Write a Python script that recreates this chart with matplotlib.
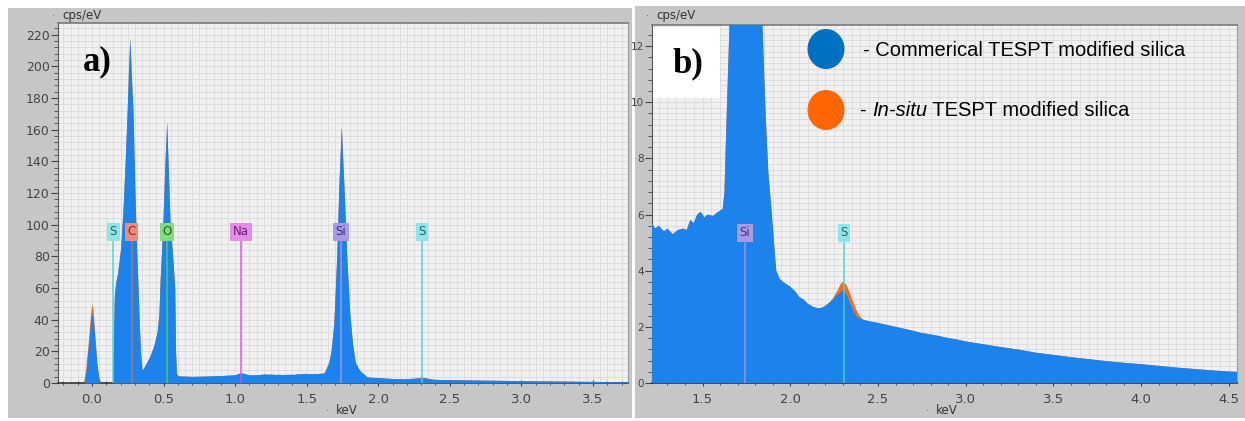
import matplotlib
matplotlib.use("Agg")
import matplotlib.pyplot as plt
from matplotlib.patches import Rectangle, Ellipse
from matplotlib.ticker import MultipleLocator, FormatStrFormatter

# ---- spectrum data (energy in keV, intensity in cps/eV) ----
commercial_kev = [
    -0.25, -0.055, -0.04, -0.02, -0.006, 0.0, 0.008, 0.02, 0.035, 0.05, 0.06,
    0.146, 0.150, 0.156, 0.165, 0.18, 0.20, 0.217, 0.232, 0.245, 0.256, 0.265,
    0.274, 0.287, 0.30, 0.31, 0.32, 0.33, 0.34, 0.35, 0.37, 0.40, 0.43, 0.455,
    0.468, 0.476, 0.487, 0.496, 0.51, 0.522, 0.533, 0.545, 0.565, 0.578, 0.584,
    0.59, 0.60, 0.70, 0.80, 0.90, 1.00, 1.03, 1.06, 1.10, 1.16, 1.21, 1.23,
    1.25, 1.28, 1.30, 1.33, 1.36, 1.39, 1.41, 1.43, 1.45, 1.47, 1.49, 1.51,
    1.53, 1.56, 1.59, 1.615, 1.625, 1.635, 1.645, 1.655, 1.67, 1.69, 1.71,
    1.725, 1.742, 1.76, 1.78, 1.80, 1.82, 1.84, 1.86, 1.875, 1.89, 1.905, 1.92,
    1.94, 1.97, 2.00, 2.03, 2.05, 2.08, 2.10, 2.13, 2.16, 2.18, 2.20, 2.22,
    2.24, 2.27, 2.30, 2.32, 2.34, 2.36, 2.38, 2.40, 2.45, 2.50, 2.55, 2.60,
    2.65, 2.70, 2.75, 2.80, 2.85, 2.90, 2.95, 3.00, 3.10, 3.20, 3.30, 3.40,
    3.50, 3.60, 3.70, 3.80, 3.90, 4.00, 4.10, 4.20, 4.30, 4.40, 4.50, 4.60]
commercial_cps = [
    0, 0, 9, 28, 42, 44, 41, 28, 11, 2, 0,
    0, 30, 55, 63, 70, 85, 110, 140, 170, 200, 218,
    196, 170, 120, 90, 65, 38, 18, 8, 11, 16, 23, 32,
    44, 65, 85, 103, 140, 165, 135, 103, 78, 60, 20,
    6, 4.5, 4.2, 4.4, 4.7, 5.2, 6.3, 6.1, 5.1, 5.3, 5.7, 5.5,
    5.6, 5.4, 5.5, 5.3, 5.45, 5.5, 5.45, 5.8, 5.7, 6.0, 6.1, 5.9,
    6.0, 5.95, 6.1, 6.2, 6.8, 9, 11, 13, 20, 38, 80,
    125, 162, 125, 80, 45, 25, 13, 9.5, 7.5, 6.4, 5.2, 4.0,
    3.7, 3.55, 3.43, 3.25, 3.07, 2.95, 2.82, 2.71, 2.66, 2.68, 2.75, 2.85,
    2.96, 3.15, 3.3, 3.15, 2.85, 2.55, 2.35, 2.28, 2.2, 2.14, 2.07, 2.0,
    1.93, 1.86, 1.78, 1.73, 1.67, 1.6, 1.55, 1.48, 1.38, 1.28, 1.19, 1.08,
    1.0, 0.92, 0.85, 0.78, 0.72, 0.67, 0.61, 0.55, 0.5, 0.45, 0.41, 0.38]

insitu_kev = [
    -0.25, -0.06, -0.045, -0.025, -0.008, 0.0, 0.008, 0.02, 0.035, 0.05, 0.065,
    0.146, 0.150, 0.156, 0.165, 0.18, 0.20, 0.217, 0.232, 0.245, 0.256, 0.265,
    0.274, 0.287, 0.30, 0.31, 0.32, 0.33, 0.34, 0.35, 0.37, 0.40, 0.43, 0.455,
    0.468, 0.476, 0.487, 0.496, 0.51, 0.522, 0.533, 0.545, 0.565, 0.578, 0.584,
    0.59, 0.60, 0.70, 0.80, 0.90, 1.00, 1.03, 1.06, 1.10, 1.16, 1.21, 1.23,
    1.25, 1.28, 1.30, 1.33, 1.36, 1.39, 1.41, 1.43, 1.45, 1.47, 1.49, 1.51,
    1.53, 1.56, 1.59, 1.615, 1.625, 1.635, 1.645, 1.655, 1.67, 1.69, 1.71,
    1.725, 1.742, 1.76, 1.78, 1.80, 1.82, 1.84, 1.86, 1.875, 1.89, 1.905, 1.92,
    1.94, 1.97, 2.00, 2.03, 2.05, 2.08, 2.10, 2.13, 2.16, 2.18, 2.20, 2.22,
    2.24, 2.27, 2.29, 2.30, 2.32, 2.34, 2.36, 2.38, 2.40, 2.42, 2.45, 2.50,
    2.55, 2.60, 2.65, 2.70, 2.75, 2.80, 2.85, 2.90, 2.95, 3.00, 3.10, 3.20,
    3.30, 3.40, 3.50, 3.60, 3.70, 3.80, 3.90, 4.00, 4.10, 4.20, 4.30, 4.40,
    4.50, 4.60]
insitu_cps = [
    0, 0, 8, 27, 46, 50, 46, 30, 12, 3, 0,
    0, 30, 55, 63, 70, 85, 110, 140, 170, 200, 218,
    196, 170, 120, 90, 65, 38, 18, 8, 11, 16, 23, 32,
    44, 65, 85, 103, 140, 165, 135, 103, 78, 60, 20,
    6, 4.5, 4.2, 4.4, 4.7, 5.2, 6.3, 6.1, 5.1, 5.3, 5.7, 5.5,
    5.6, 5.4, 5.5, 5.3, 5.45, 5.5, 5.45, 5.8, 5.7, 6.0, 6.1, 5.9,
    6.0, 5.95, 6.1, 6.2, 6.8, 9, 11, 13, 20, 38, 80,
    125, 162, 125, 80, 45, 25, 13, 9.5, 7.5, 6.4, 5.2, 4.0,
    3.7, 3.55, 3.43, 3.25, 3.07, 2.95, 2.82, 2.71, 2.66, 2.68, 2.75, 2.85,
    2.98, 3.3, 3.55, 3.6, 3.5, 3.2, 2.85, 2.55, 2.35, 2.24, 2.2, 2.14,
    2.07, 2.0, 1.93, 1.86, 1.78, 1.73, 1.67, 1.6, 1.55, 1.48, 1.38, 1.28,
    1.19, 1.08, 1.0, 0.92, 0.85, 0.78, 0.72, 0.67, 0.61, 0.55, 0.5, 0.45,
    0.41, 0.38]

# Element line markers
element_names = ["S", "C", "O", "Na", "Si", "S"]
element_kev = [0.149, 0.277, 0.525, 1.041, 1.740, 2.307]

legend_labels = ["Commerical", "In-situ"]
legend_suffix = " TESPT modified silica"

# ---- styling ----
W, H = 1245, 421
BLUE = "#1c82ec"
ORANGE = "#f26d1d"
FRAME = "#c6c6c6"
PLOT_BG = "#f1f1f1"
GRID = "#dddddd"
marker_style = {
    "S":  dict(box="#8fe6ea", text="#1d6b72", line="#45d6de"),
    "C":  dict(box="#ef8a78", text="#7a2a20", line="#c8705f"),
    "O":  dict(box="#82de7c", text="#205e20", line="#56d050"),
    "Na": dict(box="#e78ae8", text="#6d1f70", line="#e04ae0"),
    "Si": dict(box="#a99ae6", text="#3d2f82", line="#a696e6"),
}

plt.rcParams["font.family"] = ["DejaVu Sans"]

fig = plt.figure(figsize=(W / 100, H / 100), dpi=100)
fig.patch.set_facecolor("white")


def px_rect(x0, y0, x1, y1):
    return [x0 / W, 1 - y1 / H, (x1 - x0) / W, (y1 - y0) / H]


# full-figure underlay for the grey window frames and axis captions
bg = fig.add_axes([0, 0, 1, 1], zorder=0)
bg.set_xlim(0, W)
bg.set_ylim(H, 0)
bg.axis("off")
for x0, y0, x1, y1 in [(8, 8, 632, 418), (635, 6, 1245, 418)]:
    bg.add_patch(Rectangle((x0, y0), x1 - x0, y1 - y0, facecolor=FRAME,
                           edgecolor="none"))
for x, y, s in [(62, 16, "cps/eV"), (656, 16, "cps/eV"), (336, 411, "keV"), (936, 411, "keV")]:
    bg.text(x, y, s, fontsize=8.5, color="#333333", va="center", ha="left")
    bg.text(x - 10, y, "·", fontsize=7, color="#666666", va="center", ha="left")


def spectrum_panel(rect, xlim, ylim, xstep, xgrid, ystep, yminor, ygrid, ysize):
    ax = fig.add_axes(px_rect(*rect), zorder=1)
    ax.set_facecolor(PLOT_BG)
    ax.set_xlim(*xlim)
    ax.set_ylim(*ylim)
    ax.fill_between(insitu_kev, insitu_cps, color=ORANGE, lw=0, zorder=2)
    ax.fill_between(commercial_kev, commercial_cps, color=BLUE, lw=0, zorder=3)

    ax.xaxis.set_major_locator(MultipleLocator(xstep))
    ax.xaxis.set_minor_locator(MultipleLocator(xstep / 5))
    ax.yaxis.set_major_locator(MultipleLocator(ystep))
    ax.yaxis.set_minor_locator(MultipleLocator(yminor))
    ax.xaxis.set_major_formatter(FormatStrFormatter("%.1f"))

    # fine background grid
    k = int(xlim[0] / xgrid) - 1
    while k * xgrid <= xlim[1]:
        ax.axvline(k * xgrid, color=GRID, lw=0.7, zorder=1)
        k += 1
    k = 0
    while k * ygrid <= ylim[1]:
        ax.axhline(k * ygrid, color=GRID, lw=0.7, zorder=1)
        k += 1

    ax.tick_params(axis="y", which="major", direction="out", length=5, width=0.8,
                   labelsize=ysize, colors="#444444", pad=1)
    ax.tick_params(axis="y", which="minor", direction="out", length=3, width=0.6,
                   colors="#444444")
    ax.tick_params(axis="x", which="major", direction="inout", length=5, width=0.8,
                   labelsize=9.5, colors="#444444", pad=5)
    ax.tick_params(axis="x", which="minor", direction="inout", length=3, width=0.6,
                   colors="#444444")

    ax.spines["left"].set_color("#555555")
    ax.spines["bottom"].set_color("#333333")
    ax.spines["bottom"].set_linewidth(1.2)
    ax.spines["top"].set_color("#7a7a7a")
    ax.spines["top"].set_linewidth(1.2)
    ax.spines["right"].set_color("#9a9a9a")

    tr = ax.get_xaxis_transform()
    for name, e in zip(element_names, element_kev):
        st = marker_style[name]
        ax.plot([e, e], [0, 0.40], transform=tr, color=st["line"], lw=1.2,
                alpha=0.85, zorder=4, clip_on=True)
        ax.text(e, 0.42, name, transform=tr, ha="center", va="center", fontsize=8.5,
                color=st["text"], zorder=5, clip_on=True,
                bbox=dict(boxstyle="square,pad=0.22", fc=st["box"], ec="none"))
    return ax


ax_a = spectrum_panel((58, 23, 628, 383), (-0.2375, 3.745), (0, 227.4),
                      0.5, 0.05, 20, 4, 4, 9)
ax_b = spectrum_panel((652, 25, 1237, 383), (1.212, 4.546), (0, 12.75),
                      0.5, 0.05, 2, 0.4, 0.2, 7.5)

# overlay for panel letters and legend
top = fig.add_axes([0, 0, 1, 1], zorder=2)
top.set_xlim(0, W)
top.set_ylim(H, 0)
top.axis("off")
top.patch.set_alpha(0)

top.text(97, 62, "a)", fontsize=25, fontweight="bold",
         family="Liberation Serif", ha="center", va="center")
top.add_patch(Rectangle((653, 27), 67, 71, facecolor="white", edgecolor="none"))
top.text(688, 64, "b)", fontsize=25, fontweight="bold",
         family="Liberation Serif", ha="center", va="center")

for cy, col in [(49, "#0070c0"), (110, "#ff6600")]:
    top.add_patch(Ellipse((826, cy), 37, 40, facecolor=col, edgecolor="none"))

top.text(863, 50, "- " + legend_labels[0] + legend_suffix, fontsize=14.5,
         family="Liberation Sans", va="center", ha="left")
t_dash = top.text(860, 110, "- ", fontsize=14.5, family="Liberation Sans",
                  va="center", ha="left")
t_it = top.annotate(legend_labels[1], xy=(1, 0), xycoords=t_dash, va="bottom",
                    fontsize=14.5, family="Liberation Sans", style="italic",
                    annotation_clip=False)
top.annotate(legend_suffix, xy=(1, 0), xycoords=t_it, va="bottom",
             fontsize=14.5, family="Liberation Sans", annotation_clip=False)

fig.savefig("out.png", dpi=100)
